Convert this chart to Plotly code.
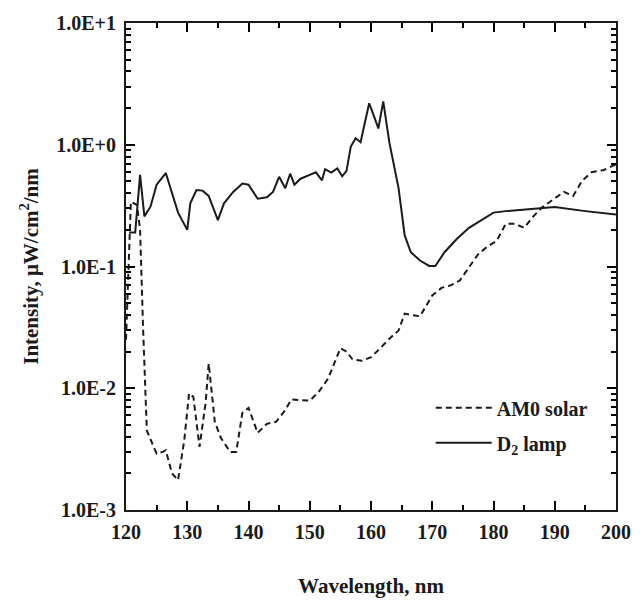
import plotly.graph_objects as go

# ---- data ----
am0_x = [120, 120.4, 120.8, 121.8, 122.3, 122.8, 123.4, 124, 125, 126, 126.5, 127.5, 128.5, 129.5,
         130.3, 131, 132, 133, 133.5, 134.5, 135.5, 137, 138, 139, 140, 141.5, 143, 144.5, 146, 147,
         149, 150, 151.5, 153, 154, 155, 156, 157, 158.5, 160, 161.5, 163, 164.5, 165.5, 166.5, 168,
         170, 171.5, 173, 174.5, 176, 177.5, 179, 180.5, 182, 183.5, 185, 186.5, 188, 190, 191.5,
         193, 194.5, 196, 198, 200]
am0_y = [0.025, 0.09, 0.34, 0.32, 0.2, 0.03, 0.0045, 0.0038, 0.0029, 0.0030, 0.0031, 0.0020, 0.00176,
         0.0037, 0.0091, 0.0085, 0.0033, 0.0076, 0.016, 0.0053, 0.0039, 0.0030, 0.0030, 0.0063, 0.0069,
         0.0043, 0.0051, 0.0053, 0.0066, 0.0081, 0.0080, 0.0079, 0.0094, 0.012, 0.016, 0.0213, 0.0200,
         0.0172, 0.0168, 0.018, 0.0213, 0.0255, 0.0298, 0.041, 0.040, 0.039, 0.0578, 0.0667, 0.070,
         0.0767, 0.0986, 0.126, 0.146, 0.162, 0.224, 0.224, 0.208, 0.258, 0.308, 0.36, 0.41, 0.38,
         0.508, 0.594, 0.62, 0.69]

d2_x = [120.5, 121.5, 122.3, 123, 124, 125, 126.5, 127.5, 128.5, 130, 130.5, 131.5, 132.5, 133.5,
        135, 136, 137.5, 139, 140, 141.5, 143, 144, 145, 146, 146.8, 147.5, 148.5, 150, 151, 152,
        152.5, 153.5, 154.5, 155.3, 156, 156.7, 157.5, 158.3, 159.7, 160.5, 161.2, 162, 163, 164.5,
        165.5, 166.5, 168, 169.5, 170.5, 172, 174, 176, 178, 180, 182, 186, 190, 195, 200]
d2_y = [0.19, 0.19, 0.565, 0.258, 0.31, 0.47, 0.586, 0.41, 0.277, 0.20, 0.33, 0.425, 0.42, 0.38,
        0.24, 0.33, 0.41, 0.48, 0.47, 0.36, 0.37, 0.41, 0.545, 0.44, 0.578, 0.47, 0.526, 0.565, 0.594,
        0.51, 0.63, 0.59, 0.64, 0.55, 0.61, 0.966, 1.13, 1.05, 2.19, 1.71, 1.36, 2.27, 1.04, 0.44,
        0.18, 0.131, 0.112, 0.101, 0.101, 0.131, 0.168, 0.208, 0.24, 0.277, 0.285, 0.298, 0.308,
        0.285, 0.267]

y_tickvals = [0.001, 0.01, 0.1, 1, 10]
y_ticktext = ["1.0E-3", "1.0E-2", "1.0E-1", "1.0E+0", "1.0E+1"]
x_tickvals = [120, 130, 140, 150, 160, 170, 180, 190, 200]
x_minor_tickvals = [125, 135, 145, 155, 165, 175, 185, 195]
y_minor_tickvals = [k * 10.0 ** e for e in (-3, -2, -1, 0) for k in range(2, 10)]

INK = "#1a1a1a"
FONT = dict(family="Liberation Serif, Times New Roman, serif", color=INK, size=20, weight="bold")

fig = go.Figure()
fig.add_trace(go.Scatter(x=am0_x, y=am0_y, mode="lines", name="AM0 solar",
                         legendgroup="a",
                         line=dict(color=INK, width=2, dash="6px,4px")))
fig.add_trace(go.Scatter(x=d2_x, y=d2_y, mode="lines", name="D<sub>2</sub> lamp",
                         legendgroup="b",
                         line=dict(color=INK, width=2)))

axis_common = dict(showline=True, linecolor=INK, linewidth=2, mirror="allticks",
                   ticks="inside", tickcolor="#000000", tickwidth=2, ticklen=9,
                   showgrid=False, zeroline=False, tickfont=FONT)

fig.update_xaxes(range=[120, 200], tickmode="array", tickvals=x_tickvals,
                 minor=dict(ticks="inside", ticklen=5, tickwidth=2, tickcolor="#000000",
                            tickmode="array", tickvals=x_minor_tickvals, showgrid=False),
                 title=dict(text="Wavelength, nm", font=dict(FONT, size=21), standoff=36),
                 ticklabelstandoff=3,
                 **axis_common)
fig.update_yaxes(type="log", range=[-3, 1], tickmode="array", tickvals=y_tickvals,
                 ticktext=y_ticktext,
                 minor=dict(ticks="inside", ticklen=5, tickwidth=2, tickcolor="#000000",
                            tickmode="array", tickvals=y_minor_tickvals, showgrid=False),
                 title=dict(text="Intensity, μW/cm<sup>2</sup>/nm", font=dict(FONT, size=21),
                            standoff=12),
                 ticklabelstandoff=4,
                 **axis_common)

fig.update_layout(
    width=643, height=606,
    margin=dict(l=126, r=16, t=16, b=91),
    paper_bgcolor="white", plot_bgcolor="white",
    font=FONT,
    legend=dict(x=0.622, y=0.25, xanchor="left", yanchor="top",
                bgcolor="rgba(0,0,0,0)", font=dict(FONT, size=20),
                traceorder="grouped", tracegroupgap=6, itemwidth=56),
)

fig.write_html("out.html")
